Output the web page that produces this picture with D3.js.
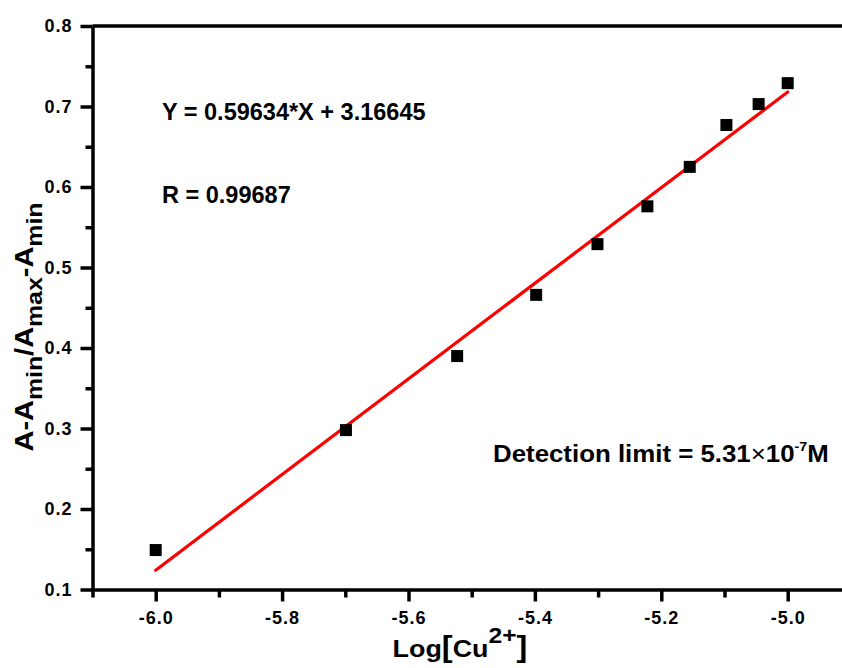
<!DOCTYPE html>
<html>
<head>
<meta charset="utf-8">
<script src="https://d3js.org/d3.v7.min.js"></script>
<style>
  html, body { margin: 0; padding: 0; background: #fff; }
  svg { display: block; }
  text { font-family: "Liberation Sans", Arial, sans-serif; font-weight: bold; fill: #000; }
</style>
</head>
<body>
<svg id="chart" width="842" height="668"></svg>
<script>
// ---- data ----
const logCu = [-6.0, -5.699, -5.523, -5.398, -5.301, -5.222, -5.155, -5.097, -5.046, -5.0];
const ratio = [0.149, 0.298, 0.390, 0.466, 0.529, 0.576, 0.625, 0.677, 0.703, 0.729];
const fitX = [-6.0, -5.0];
const fitY = [0.124, 0.718];
const xTicks = [-6.0, -5.8, -5.6, -5.4, -5.2, -5.0];
const xMinorTicks = [-6.1, -5.9, -5.7, -5.5, -5.3, -5.1, -4.9];
const yTicks = [0.1, 0.2, 0.3, 0.4, 0.5, 0.6, 0.7, 0.8];
const yMinorTicks = [0.15, 0.25, 0.35, 0.45, 0.55, 0.65, 0.75];
const equationText = "Y = 0.59634*X + 3.16645";
const rText = "R = 0.99687";

const svg = d3.select("#chart");
const x = d3.scaleLinear().domain([-6.1, -4.9]).range([92.5, 850.9]);
const y = d3.scaleLinear().domain([0.1, 0.8]).range([589.5, 26]);

const AXW = 3.5;
const fmt = (d) => d.toFixed(1); // plain hyphen-minus like the original

// top frame line
svg.append("line")
  .attr("x1", x(-6.1)).attr("x2", x(-4.9))
  .attr("y1", y(0.8)).attr("y2", y(0.8))
  .attr("stroke", "#000").attr("stroke-width", AXW);

// x axis
svg.append("g").attr("class", "ax").attr("transform", `translate(0,${y(0.1)})`)
  .call(d3.axisBottom(x).tickValues(xTicks).tickFormat(fmt).tickSize(12).tickSizeOuter(0).tickPadding(10));
const xMinor = svg.append("g").attr("transform", `translate(0,${y(0.1)})`)
  .call(d3.axisBottom(x).tickValues(xMinorTicks).tickFormat("").tickSize(8).tickSizeOuter(0));
xMinor.select(".domain").remove();

// y axis
svg.append("g").attr("class", "ax").attr("transform", `translate(${x(-6.1)},0)`)
  .call(d3.axisLeft(y).tickValues(yTicks).tickFormat(fmt).tickSize(12).tickSizeOuter(0).tickPadding(8));
const yMinor = svg.append("g").attr("transform", `translate(${x(-6.1)},0)`)
  .call(d3.axisLeft(y).tickValues(yMinorTicks).tickFormat("").tickSize(7).tickSizeOuter(0));
yMinor.select(".domain").remove();

svg.selectAll(".domain").attr("stroke", "#000").attr("stroke-width", AXW);
svg.selectAll(".tick line").attr("stroke", "#000").attr("stroke-width", 3.5);
svg.selectAll(".ax").attr("font-size", null).attr("font-family", null);
svg.selectAll(".tick text")
  .attr("font-weight", "bold")
  .attr("font-family", '"Liberation Sans", Arial, sans-serif')
  .style("font-size", "18px").style("letter-spacing", "1px").attr("fill", "#000");

// fit line
svg.append("line")
  .attr("x1", x(fitX[0])).attr("y1", y(fitY[0]))
  .attr("x2", x(fitX[1])).attr("y2", y(fitY[1]))
  .attr("stroke", "#f00").attr("stroke-width", 3.2).attr("stroke-linecap", "round");

// points
const S = 12;
svg.append("g").selectAll("rect").data(logCu).join("rect")
  .attr("x", (d) => x(d) - S / 2)
  .attr("y", (d, i) => y(ratio[i]) - S / 2)
  .attr("width", S).attr("height", S).attr("fill", "#000");

// annotations
svg.append("text").attr("x", 162).attr("y", 120).style("font-size", "23.5px").text(equationText);
svg.append("text").attr("x", 162).attr("y", 203).style("font-size", "23.5px").text(rText);

const det = svg.append("text").attr("transform", "translate(493,462) scale(1.1,1)").style("font-size", "23.5px");
det.append("tspan").text("Detection limit = 5.31");
det.append("tspan").style("font-weight", "normal").text("\u00d7");
det.append("tspan").text("10");
det.append("tspan").attr("dy", -11).style("font-size", "13px").text("-7");
det.append("tspan").attr("dy", 11).text("M");

// x label
const xl = svg.append("text").attr("transform", "translate(460,657) scale(1.12,1)").attr("text-anchor", "middle").style("font-size", "24px");
xl.append("tspan").text("Log");
xl.append("tspan").style("font-size", "29px").text("[");
xl.append("tspan").text("Cu");
xl.append("tspan").attr("dy", -14).style("font-size", "22px").text("2+");
xl.append("tspan").attr("dy", 14).style("font-size", "29px").text("]");

// y label
const yl = svg.append("text").attr("transform", "translate(33,327) rotate(-90) scale(1.157,1)").attr("text-anchor", "middle").style("font-size", "25px");
yl.append("tspan").text("A-A");
yl.append("tspan").attr("dy", 9).style("font-size", "21.5px").text("min");
yl.append("tspan").attr("dy", -9).text("/A");
yl.append("tspan").attr("dy", 9).style("font-size", "21.5px").text("max");
yl.append("tspan").attr("dy", -9).text("-A");
yl.append("tspan").attr("dy", 9).style("font-size", "21.5px").text("min");
</script>
</body>
</html>
